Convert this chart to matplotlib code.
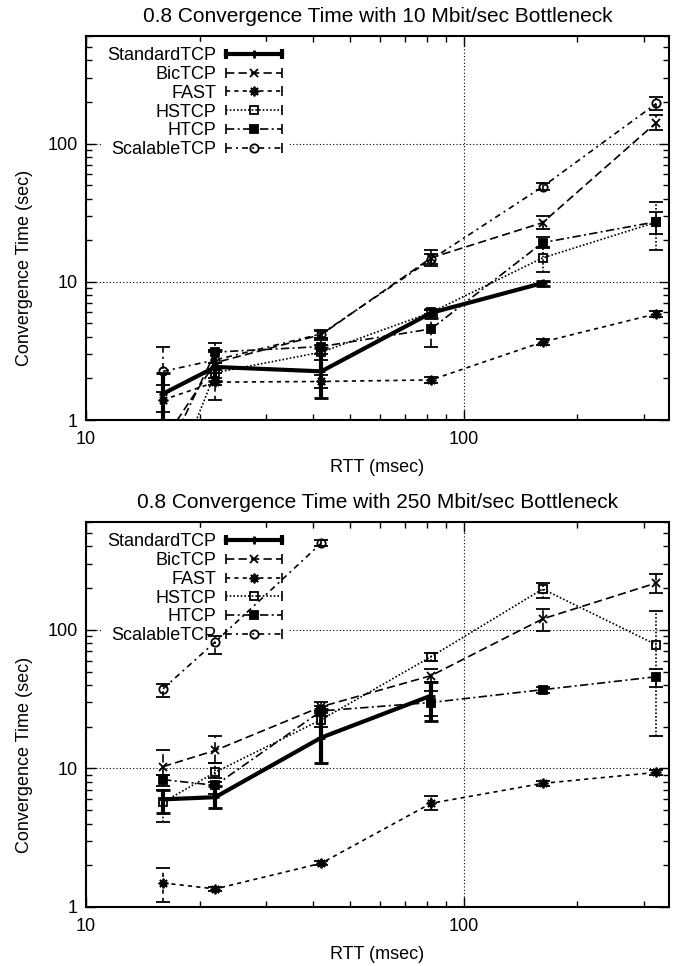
import numpy as np
import matplotlib
matplotlib.use('Agg')
import matplotlib.pyplot as plt
from matplotlib import ticker
from matplotlib.lines import Line2D
from matplotlib.legend_handler import HandlerLine2D

plt.rcParams['font.family'] = ['Liberation Sans', 'DejaVu Sans']
plt.rcParams['font.size'] = 13

nan = np.nan

rtt = [16, 22, 42, 82, 162, 324]
protocols = ['StandardTCP', 'BicTCP', 'FAST', 'HSTCP', 'HTCP', 'ScalableTCP']

# 10 Mbit/sec bottleneck (rows follow protocols)
mean_10 = [
    [1.55, 2.42, 2.25, 5.96, 9.8, nan],
    [0.7, 2.6, 4.15, 14.9, 26.8, 142],
    [1.4, 1.88, 1.9, 1.95, 3.67, 5.87],
    [0.25, 2.2, 3.1, 6.0, 14.9, 27],
    [0.5, 3.1, 3.4, 4.56, 19.2, 27.2],
    [2.25, 2.72, 4.2, 14.5, 48.8, 195],
]
lo_10 = [
    [0.9, 1.9, 1.45, 5.5, 9.4, nan],
    [0.5, 2.0, 3.9, 13, 24, 125],
    [1.15, 1.4, 1.7, 1.85, 3.5, 5.6],
    [0.2, 1.8, 2.7, 5.7, 11.8, 17],
    [0.4, 2.6, 3.0, 3.4, 17.5, 22],
    [1.8, 2.3, 3.9, 13.5, 46, 175],
]
hi_10 = [
    [2.2, 3.2, 3.3, 6.4, 10.2, nan],
    [1.0, 3.2, 4.4, 17, 30, 160],
    [1.6, 2.2, 2.1, 2.05, 3.85, 6.1],
    [0.3, 2.6, 3.5, 6.3, 18, 38],
    [0.6, 3.6, 3.8, 5.8, 21, 32],
    [3.4, 3.1, 4.5, 16, 52, 218],
]

# 250 Mbit/sec bottleneck
mean_250 = [
    [5.98, 6.2, 16.7, 33.5, nan, nan],
    [10.3, 13.5, 27.9, 46.7, 120, 218],
    [1.49, 1.35, 2.07, 5.6, 7.8, 9.36],
    [5.7, 9.4, 22.5, 64, 197, 78],
    [8.3, 7.55, 26, 29.9, 37, 45.9],
    [37.6, 82, 423, nan, nan, nan],
]
lo_250 = [
    [4.8, 5.2, 10.9, 22, nan, nan],
    [9, 11, 26, 42, 98, 185],
    [1.08, 1.3, 2.0, 5.0, 7.5, 9.0],
    [4.1, 8, 20, 60, 170, 17],
    [7.5, 6.5, 24, 24, 35, 39],
    [33, 67, 400, nan, nan, nan],
]
hi_250 = [
    [7.0, 7.5, 27, 42, nan, nan],
    [13.5, 17, 30, 52, 141, 253],
    [1.9, 1.4, 2.15, 6.3, 8.1, 9.7],
    [7, 11, 25, 68, 217, 137],
    [9.0, 8.5, 28, 36, 39, 52],
    [41, 90, 445, nan, nan, nan],
]

# line style, marker, filled, linewidth per protocol
STYLES = [
    dict(ls='-', marker='+', mfc='black', lw=3.0, ms=6),
    dict(ls=(0, (5, 2.5)), marker='x', mfc='black', lw=1.2, ms=6),
    dict(ls=(0, (2.5, 2.5)), marker=(8, 2, 0), mfc='black', lw=1.2, ms=7),
    dict(ls=(0, (1, 1.2)), marker='s', mfc='none', lw=1.2, ms=5.5),
    dict(ls=(0, (5, 2, 1.2, 2)), marker='s', mfc='black', lw=1.2, ms=5.5),
    dict(ls=(0, (3.5, 2.5, 1.2, 2.5)), marker='o', mfc='none', lw=1.2, ms=6),
]


def draw_panel(ax, title, mean, lo, hi):
    handles = []
    hmap = {}
    for name, m, l, h, st in zip(protocols, mean, lo, hi, STYLES):
        m = np.array(m, dtype=float)
        yerr = [m - np.array(l, dtype=float), np.array(h, dtype=float) - m]
        thick = st['lw'] > 2
        _, caps, bars = ax.errorbar(
            rtt, m, yerr=yerr, color='black', ls=st['ls'], lw=st['lw'],
            marker=st['marker'], ms=st['ms'], mfc=st['mfc'], mec='black',
            mew=2 if thick else 1.3, elinewidth=st['lw'],
            capsize=5, capthick=st['lw'] if thick else 1.2, zorder=3)
        for b in bars:
            b.set_linestyle(st['ls'])

        # legend handle: styled line with marker, plus caps at both ends
        line_h = Line2D([], [], color='black', ls=st['ls'], lw=st['lw'],
                        marker=st['marker'], ms=st['ms'], mfc=st['mfc'],
                        mec='black', mew=2 if thick else 1.3)
        cap_h = Line2D([], [], color='black', ls='none', marker='|',
                       ms=7, mew=st['lw'] if thick else 1.2)
        hmap[line_h] = HandlerLine2D(numpoints=1)
        hmap[cap_h] = HandlerLine2D(numpoints=2, marker_pad=0)
        handles.append((line_h, cap_h))

    ax.set_xscale('log')
    ax.set_yscale('log')
    ax.set_xlim(10, 350)
    ax.set_ylim(1, 600)

    fmt = ticker.FuncFormatter(lambda v, p: f'{v:g}')
    ax.xaxis.set_major_formatter(fmt)
    ax.yaxis.set_major_formatter(fmt)
    ax.xaxis.set_minor_formatter(ticker.NullFormatter())
    ax.yaxis.set_minor_formatter(ticker.NullFormatter())
    ax.tick_params(which='both', direction='in', top=True, right=True,
                   width=1.0)
    ax.tick_params(which='major', length=7)
    ax.tick_params(which='minor', length=4)
    ax.tick_params(axis='x', pad=8)
    ax.tick_params(axis='y', pad=6)
    for s in ax.spines.values():
        s.set_linewidth(1.5)

    ax.set_axisbelow(True)
    ax.grid(True, which='major', color='black', linestyle=(0, (1, 2)),
            linewidth=0.8)

    ax.set_title(title, fontsize=15, pad=10)
    ax.set_xlabel('RTT (msec)', labelpad=8)
    ax.set_ylabel('Convergence Time (sec)')
    ax.yaxis.set_label_coords(-0.091, 0.395)

    leg = ax.legend(handles, protocols, handler_map=hmap, loc='upper right',
                    bbox_to_anchor=(0.346, 0.985), markerfirst=False,
                    handlelength=3.1, handletextpad=0.55, labelspacing=0.1,
                    borderpad=0.3, borderaxespad=0, frameon=True,
                    fancybox=False, framealpha=1, edgecolor='white',
                    facecolor='white', fontsize=13)
    leg.set_zorder(1)


fig = plt.figure(figsize=(6.79, 9.66), dpi=100)
ax1 = fig.add_axes([0.1267, 0.5652, 0.8586, 0.3975])
ax2 = fig.add_axes([0.1267, 0.0611, 0.8586, 0.3985])

draw_panel(ax1, '0.8 Convergence Time with 10 Mbit/sec Bottleneck',
           mean_10, lo_10, hi_10)
draw_panel(ax2, '0.8 Convergence Time with 250 Mbit/sec Bottleneck',
           mean_250, lo_250, hi_250)

fig.savefig('out.png', dpi=100)
